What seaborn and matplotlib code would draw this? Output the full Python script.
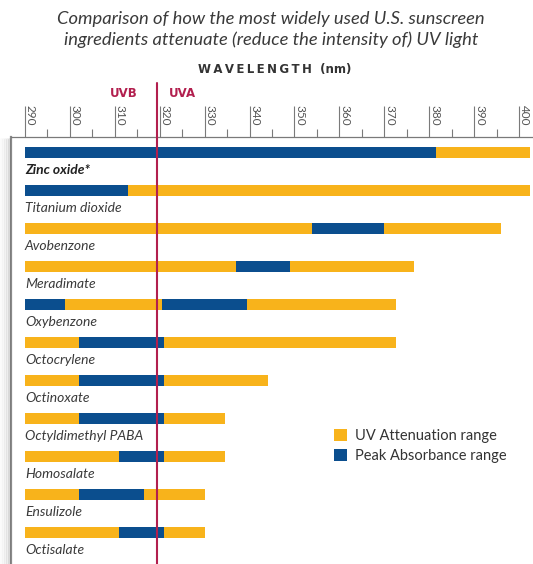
import matplotlib
matplotlib.use("Agg")
import matplotlib.pyplot as plt
from matplotlib.patches import Patch
import seaborn as sns

# ingredients, top to bottom
ingredients = ["Zinc oxide*", "Titanium dioxide", "Avobenzone", "Meradimate",
               "Oxybenzone", "Octocrylene", "Octinoxate", "Octyldimethyl PABA",
               "Homosalate", "Ensulizole", "Octisalate"]

# UV attenuation range (nm)
atten_start = [290, 290, 290, 290, 290, 290, 290, 290, 290, 290, 290]
atten_end = [402.5, 402.5, 396, 376.5, 372.5, 372.5, 344, 334.5, 334.5, 330, 330]

# peak absorbance segments (nm): ingredient, start, end
peak_name = ["Zinc oxide*", "Titanium dioxide", "Avobenzone", "Meradimate",
             "Oxybenzone", "Oxybenzone", "Octocrylene", "Octinoxate",
             "Octyldimethyl PABA", "Homosalate", "Ensulizole", "Octisalate"]
peak_start = [290, 290, 354, 337, 290, 320.5, 302, 302, 302, 311, 302, 311]
peak_end = [381.5, 313, 370, 349, 299, 339.5, 321, 321, 321, 321, 316.5, 321]

major_ticks = list(range(290, 401, 10))
minor_ticks = list(range(295, 400, 10))
uv_boundary = 319.5

YELLOW = "#F8B31B"
BLUE = "#0B4E8E"
RED = "#B21F4E"
GRAY = "#7a7a7a"

sns.set_style("white")
plt.rcParams["font.family"] = ["Lato", "DejaVu Sans"]

fig = plt.figure(figsize=(5.33, 5.64), dpi=100)
ax = fig.add_axes([11 / 533, 0, 522 / 533, 427 / 564])

ypos = {name: i for i, name in enumerate(ingredients)}
bar_h = 0.29

ax.barh([ypos[n] for n in ingredients],
        [e - s for s, e in zip(atten_start, atten_end)],
        left=atten_start, height=bar_h, color=YELLOW, linewidth=0)
ax.barh([ypos[n] for n in peak_name],
        [e - s for s, e in zip(peak_start, peak_end)],
        left=peak_start, height=bar_h, color=BLUE, linewidth=0)

for name in ingredients:
    bold = name.startswith("Zinc")
    ax.text(290, ypos[name] + 0.47, name, ha="left", va="center",
            fontsize=10, style="italic", color="#222" if bold else "#3a3a3a",
            fontweight="bold" if bold else "normal")

ax.set_xlim(286.9, 403.1)
ax.set_ylim(10.84, -0.41)
ax.set_yticks([])

ax.xaxis.tick_top()
ax.set_xticks(major_ticks)
ax.set_xticks(minor_ticks, minor=True)
ax.tick_params(axis="x", which="major", length=22, width=0.8, color=GRAY,
               direction="out", pad=-14, labelsize=8.5, labelcolor="#555")
ax.tick_params(axis="x", which="minor", length=5.5, width=0.8, color=GRAY,
               direction="out")
for lab in ax.get_xticklabels():
    lab.set_rotation(-90)
    lab.set_ha("left")

for side in ["right", "bottom"]:
    ax.spines[side].set_visible(False)
ax.spines["top"].set_color(GRAY)
ax.spines["top"].set_linewidth(0.9)
ax.spines["left"].set_color("#8a8a8a")
ax.spines["left"].set_linewidth(1.6)

# soft shadow left of the frame
for k, a in enumerate([0.10, 0.07, 0.05, 0.03, 0.02]):
    fig.add_artist(plt.Line2D([(9 - 2 * k) / 533] * 2, [0, 427 / 564 - 0.004],
                              color="black", alpha=a, lw=2))

# UVB / UVA divider
ax.axvline(uv_boundary, ymin=0, ymax=1.126, color=RED, lw=1.5, clip_on=False, zorder=5)
ax.text(uv_boundary - 4.5, 1.103, "UVB", transform=ax.get_xaxis_transform(),
        ha="right", va="center", color=RED, fontsize=8.5, fontweight="bold",
        family=["DejaVu Sans"])
ax.text(uv_boundary + 2.5, 1.103, "UVA", transform=ax.get_xaxis_transform(),
        ha="left", va="center", color=RED, fontsize=8.5, fontweight="bold",
        family=["DejaVu Sans"])

fig.text(0.515, 0.876, "W\u2009A\u2009V\u2009E\u2009L\u2009E\u2009N\u2009G\u2009T\u2009H  (nm)",
         ha="center", va="center", fontsize=8.5, fontweight="bold", color="#333",
         family=["DejaVu Sans"])

fig.text(0.508, 0.966, "Comparison of how the most widely used U.S. sunscreen",
         ha="center", va="center", fontsize=13.2, style="italic", color="#3a3a3a")
fig.text(0.508, 0.930, "ingredients attenuate (reduce the intensity of) UV light",
         ha="center", va="center", fontsize=13.2, style="italic", color="#3a3a3a")

handles = [Patch(facecolor=YELLOW, edgecolor="none"),
           Patch(facecolor=BLUE, edgecolor="none")]
ax.legend(handles, ["UV Attenuation range", "Peak Absorbance range"],
          loc="upper left", bbox_to_anchor=(0.604, 0.334), frameon=False,
          fontsize=10.5, handlelength=0.95, handleheight=0.95,
          handletextpad=0.55, labelspacing=0.4, borderpad=0,
          labelcolor="#333")

fig.savefig("out.png", dpi=100)
